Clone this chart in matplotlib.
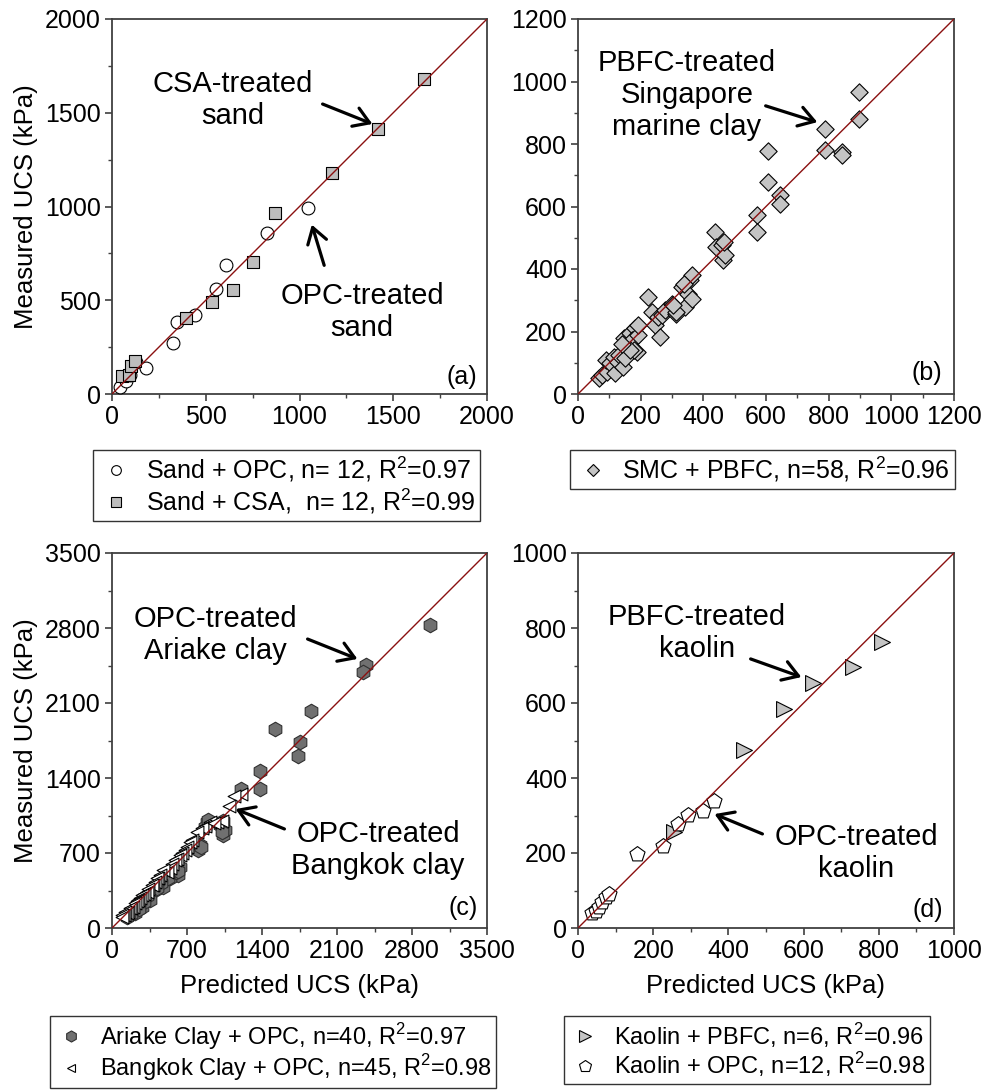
import matplotlib
matplotlib.use("Agg")
import matplotlib.pyplot as plt
from matplotlib.lines import Line2D
from matplotlib.patches import FancyArrowPatch
from matplotlib.ticker import MultipleLocator

# ---------------- data ----------------
sand_opc_pred = [40, 75, 95, 130, 180, 325, 345, 445, 555, 610, 825, 1045]
sand_opc_meas = [40, 70, 100, 170, 140, 270, 385, 420, 560, 690, 860, 990]
sand_csa_pred = [55, 90, 100, 120, 395, 535, 645, 750, 870, 1175, 1420, 1665]
sand_csa_meas = [95, 100, 150, 175, 405, 490, 555, 705, 965, 1180, 1415, 1680]

smc_pred = [68, 75, 94, 90, 101, 118, 116, 127, 130, 145, 150, 148, 161, 166, 182,
            173, 187, 193, 180, 165, 192, 140, 224, 237, 247, 261, 254, 268, 279, 300,
            312, 340, 333, 357, 363, 352, 363, 338, 314, 304, 437, 442, 458, 463, 469,
            465, 570, 570, 607, 607, 646, 646, 788, 788, 841, 841, 898, 898]
smc_meas = [50, 60, 71, 110, 99, 66, 119, 103, 125, 87, 114, 178, 151, 196, 210,
            172, 135, 188, 140, 142, 222, 160, 311, 263, 220, 184, 247, 252, 268, 289,
            257, 279, 343, 364, 380, 321, 305, 353, 264, 285, 520, 472, 477, 429, 445,
            485, 573, 520, 679, 778, 637, 608, 847, 781, 775, 765, 967, 879]

ariake_pred = [2971, 2371, 2343, 1857, 1525, 1752, 1733, 1378, 1378, 1204,
               1039, 1055, 1008, 884, 868, 806, 821, 619, 635, 569,
               541, 479, 401, 355, 277, 215, 137, 1040, 1030, 900,
               830, 600, 620, 520, 460, 420, 330, 300, 250, 180]
ariake_meas = [2831, 2458, 2386, 2022, 1861, 1733, 1609, 1462, 1297, 1297,
               868, 915, 961, 993, 946, 728, 775, 495, 572, 541,
               464, 386, 355, 261, 199, 137, 106, 1000, 900, 1010,
               760, 520, 530, 470, 420, 370, 300, 240, 180, 130]

bangkok_pred = [1200, 1140, 1090, 977, 915, 870, 837, 790, 743, 728, 697, 681, 650, 635, 604,
                588, 560, 541, 510, 479, 448, 432, 417, 400, 386, 370, 340, 324, 300, 277,
                260, 246, 230, 215, 199, 180, 168, 153, 140, 121, 110, 90, 90, 1030, 950]
bangkok_meas = [1250, 1230, 1135, 993, 990, 950, 930, 899, 820, 806, 760, 728, 700, 681, 640,
                635, 600, 560, 520, 541, 495, 470, 464, 430, 400, 401, 360, 339, 320, 308,
                280, 261, 250, 230, 200, 190, 184, 150, 140, 152, 120, 121, 100, 1000, 980]

kaolin_pbfc_pred = [255, 442, 549, 625, 732, 809]
kaolin_pbfc_meas = [256, 474, 584, 653, 695, 764]
kaolin_opc_pred = [36, 47, 56, 65, 74, 82, 157, 225, 265, 293, 333, 362]
kaolin_opc_meas = [39, 45, 57, 70, 83, 90, 197, 220, 277, 302, 313, 340]

labels_a = ["Sand + OPC, n= 12, R$^2$=0.97", "Sand + CSA,  n= 12, R$^2$=0.99"]
labels_b = ["SMC + PBFC, n=58, R$^2$=0.96"]
labels_c = ["Ariake Clay + OPC, n=40, R$^2$=0.97", "Bangkok Clay + OPC, n=45, R$^2$=0.98"]
labels_d = ["Kaolin + PBFC, n=6, R$^2$=0.96", "Kaolin + OPC, n=12, R$^2$=0.98"]

# ---------------- style ----------------
plt.rcParams['font.family'] = ['Liberation Sans', 'DejaVu Sans']
plt.rcParams['mathtext.fontset'] = 'custom'
plt.rcParams['mathtext.rm'] = 'Liberation Sans'
W, H = 984, 1091
fig = plt.figure(figsize=(W / 100, H / 100), dpi=100)

TICK_FS = 18
LAB_FS = 18.5
ANN_FS = 21
LINE_COL = '#8B1010'
SPINE_COL = '#404040'


def make_ax(left, top, right, bottom, lim, major):
    ax = fig.add_axes([left / W, 1 - bottom / H, (right - left) / W, (bottom - top) / H])
    ax.set_xlim(0, lim)
    ax.set_ylim(0, lim)
    ax.xaxis.set_major_locator(MultipleLocator(major))
    ax.yaxis.set_major_locator(MultipleLocator(major))
    ax.xaxis.set_minor_locator(MultipleLocator(major / 2))
    ax.yaxis.set_minor_locator(MultipleLocator(major / 2))
    ax.tick_params(which='major', direction='out', length=5, width=1.2, labelsize=TICK_FS,
                   color=SPINE_COL, pad=3)
    ax.tick_params(which='minor', direction='out', length=3, width=1.0, color=SPINE_COL)
    for s in ax.spines.values():
        s.set_color(SPINE_COL)
        s.set_linewidth(1.3)
    ax.plot([0, lim], [0, lim], color=LINE_COL, lw=1.0, zorder=5)
    return ax


def fp(x, y):
    return (x / W, 1 - y / H)


def annot(text, txy, tail, head):
    fig.text(*fp(*txy), text, ha='center', va='center', fontsize=ANN_FS, linespacing=1.2)
    fig.add_artist(FancyArrowPatch(
        fp(*tail), fp(*head), transform=fig.transFigure,
        arrowstyle='->,head_length=0.55,head_width=0.35', lw=2.3, color='black',
        mutation_scale=20))


# (a)
axa = make_ax(112, 19, 487, 394, 2000, 500)
axa.scatter(sand_opc_pred, sand_opc_meas, marker='o', s=85, facecolor='white',
            edgecolor='black', linewidth=0.8, zorder=3)
axa.scatter(sand_csa_pred, sand_csa_meas, marker='s', s=64, facecolor='#BDBDBD',
            edgecolor='black', linewidth=0.8, zorder=3)
axa.set_ylabel('Measured UCS (kPa)', fontsize=LAB_FS, labelpad=5)

# (b)
axb = make_ax(578, 19, 954, 394, 1200, 200)
axb.scatter(smc_pred, smc_meas, marker='D', s=78, facecolor='#C4C4C4',
            edgecolor='black', linewidth=0.8, zorder=3)

# (c)
axc = make_ax(112, 553, 487, 928, 3500, 700)
axc.scatter(ariake_pred, ariake_meas, marker='h', s=110, facecolor='#707070',
            edgecolor='#303030', linewidth=0.8, zorder=3)
axc.scatter(bangkok_pred, bangkok_meas, marker='<', s=85, facecolor='white',
            edgecolor='black', linewidth=0.8, zorder=4)
axc.set_ylabel('Measured UCS (kPa)', fontsize=LAB_FS, labelpad=5)
axc.set_xlabel('Predicted UCS (kPa)', fontsize=LAB_FS, labelpad=8)

# (d)
axd = make_ax(578, 553, 954, 928, 1000, 200)
axd.scatter(kaolin_pbfc_pred, kaolin_pbfc_meas, marker='>', s=130, facecolor='#C4C4C4',
            edgecolor='black', linewidth=0.8, zorder=3)
axd.scatter(kaolin_opc_pred, kaolin_opc_meas, marker='p', s=130, facecolor='white',
            edgecolor='black', linewidth=0.8, zorder=4)
axd.set_xlabel('Predicted UCS (kPa)', fontsize=LAB_FS, labelpad=8)

# panel labels
for lab, xy in [('(a)', (462, 377)), ('(b)', (927, 373)), ('(c)', (463, 908)), ('(d)', (928, 910))]:
    fig.text(*fp(*xy), lab, ha='center', va='center', fontsize=TICK_FS)

# annotations
annot('CSA-treated\nsand', (233, 100), (320, 103), (375, 125))
annot('OPC-treated\nsand', (362, 312), (325, 268), (311, 222))
annot('PBFC-treated\nSingapore\nmarine clay', (687, 95), (763, 105), (820, 123))
annot('OPC-treated\nAriake clay', (215, 635), (305, 638), (360, 660))
annot('OPC-treated\nBangkok clay', (378, 850), (287, 830), (233, 808))
annot('PBFC-treated\nkaolin', (697, 633), (748, 658), (804, 678))
annot('OPC-treated\nkaolin', (856, 853), (765, 835), (712, 813))


# legends
def mk(marker, fc, ec='black', ms=8):
    return Line2D([], [], linestyle='none', marker=marker, markersize=ms,
                  markerfacecolor=fc, markeredgecolor=ec, markeredgewidth=0.8)


def leg(handles, labels, x, y, fs, ls=0.1):
    lg = fig.legend(handles, labels, loc='upper left', bbox_to_anchor=fp(x, y),
                    bbox_transform=fig.transFigure, fontsize=fs, frameon=True,
                    fancybox=False, edgecolor='black', borderaxespad=0,
                    handletextpad=0.5, labelspacing=ls, borderpad=0.2,
                    handlelength=1.4)
    lg.get_frame().set_linewidth(1.0)
    return lg


leg([mk('o', 'white', ms=7), mk('s', '#BDBDBD', ms=6.5)], labels_a, 93, 450, 18)
leg([mk('D', '#C4C4C4', ms=6.5)], labels_b, 570, 450, 18)
leg([mk('h', '#707070', '#303030', ms=8), mk('<', 'white', ms=6)], labels_c, 50, 1016, 17, 0.02)
leg([mk('>', '#C4C4C4', ms=8), mk('p', 'white', ms=9)], labels_d, 564, 1016, 17, 0.02)

fig.savefig('out.png', dpi=100)
